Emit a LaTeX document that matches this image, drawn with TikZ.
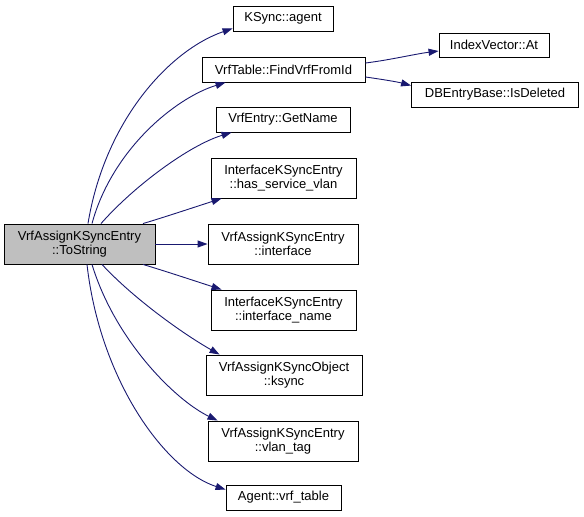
\documentclass[tikz,border=0pt]{standalone}
\usepackage{fontspec}
\setmainfont{Liberation Sans}
\usetikzlibrary{arrows.meta}
\definecolor{edgeblue}{HTML}{191970}
\begin{document}
\begin{tikzpicture}[x=1pt,y=-1pt,
  fn/.style={draw=black,line width=0.9pt,fill=white,inner sep=0pt,align=center,
    font=\fontsize{13}{14}\selectfont},
  mainfn/.style={fn,fill=black!25},
  call/.style={draw=edgeblue,line width=0.9pt,-{Triangle[length=10pt,width=7pt]}}]
\useasboundingbox (0,0) rectangle (584,517);
\node[mainfn,minimum width=151pt,minimum height=40pt] (main) at (79.5,244) {VrfAssignKSyncEntry\\::ToString};
\node[fn,minimum width=100pt,minimum height=25pt] (agent) at (283,18.5) {KSync::agent};
\node[fn,minimum width=163pt,minimum height=25pt] (find) at (283.5,69.5) {VrfTable::FindVrfFromId};
\node[fn,minimum width=110pt,minimum height=24pt] (index) at (494,45) {IndexVector::At};
\node[fn,minimum width=167pt,minimum height=25pt] (isdel) at (495,94.5) {DBEntryBase::IsDeleted};
\node[fn,minimum width=134pt,minimum height=25pt] (getname) at (283,119.5) {VrfEntry::GetName};
\node[fn,minimum width=145pt,minimum height=40pt] (hsv) at (283.5,178) {InterfaceKSyncEntry\\::has\_service\_vlan};
\node[fn,minimum width=150pt,minimum height=40pt] (iface) at (283,244) {VrfAssignKSyncEntry\\::interface};
\node[fn,minimum width=145pt,minimum height=40pt] (iname) at (283.5,310) {InterfaceKSyncEntry\\::interface\_name};
\node[fn,minimum width=156pt,minimum height=40pt] (ksync) at (284,375) {VrfAssignKSyncObject\\::ksync};
\node[fn,minimum width=150pt,minimum height=40pt] (vlan) at (283,441) {VrfAssignKSyncEntry\\::vlan\_tag};
\node[fn,minimum width=115pt,minimum height=25pt] (vrft) at (283.5,497.5) {Agent::vrf\_table};

\draw[call] ([xshift=8.5pt]main.north) .. controls (105,120) and (170,50) .. ([yshift=3pt]agent.south west);
\draw[call] ([xshift=12.5pt]main.north) .. controls (112,150) and (175,98) .. ([xshift=24pt]find.south west);
\draw[call] ([xshift=21.5pt]main.north) .. controls (135,185) and (190,145) .. ([xshift=16pt]getname.south west);
\draw[call] ([xshift=63.5pt]main.north) .. controls (165,217) and (195,207) .. ([xshift=11pt]hsv.south west);
\draw[call] (main.east) -- (iface.west);
\draw[call] ([xshift=63.5pt]main.south) .. controls (165,271) and (195,281) .. ([xshift=11pt]iname.north west);
\draw[call] ([xshift=22.5pt]main.south) .. controls (135,300) and (185,335) .. ([xshift=14pt]ksync.north west);
\draw[call] ([xshift=12.5pt]main.south) .. controls (115,340) and (175,400) .. ([xshift=10pt]vlan.north west);
\draw[call] ([xshift=7.5pt]main.south) .. controls (100,380) and (165,470) .. ([yshift=-5pt]vrft.north west);
\draw[call] ([yshift=6.5pt]find.east) .. controls (390,60) and (415,54) .. ([yshift=-6pt]index.west);
\draw[call] ([yshift=-7.5pt]find.east) .. controls (380,79) and (398,82) .. ([yshift=-4pt]isdel.north west);
\end{tikzpicture}
\end{document}
